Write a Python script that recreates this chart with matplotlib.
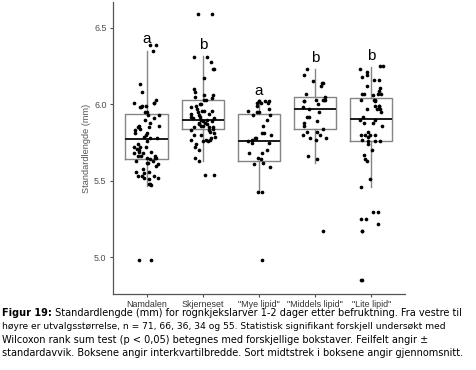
import numpy as np
import matplotlib
matplotlib.use("Agg")
import matplotlib.pyplot as plt
from matplotlib.text import Annotation

# --- DATA ---
groups = ['Namdalen', 'Skjerneset', '"Mye lipid"', '"Middels lipid"', '"Lite lipid"']
letters = ['a', 'b', 'a', 'b', 'b']
letter_y = [6.43, 6.39, 6.09, 6.30, 6.315]

# box statistics (q1, median, q3, lower whisker, upper whisker)
q1 = [5.645, 5.837, 5.633, 5.837, 5.760]
med = [5.774, 5.898, 5.759, 5.967, 5.907]
q3 = [5.935, 6.028, 5.937, 6.046, 6.040]
wlo = [5.469, 5.630, 5.430, 5.620, 5.463]
whi = [6.348, 6.315, 6.024, 6.230, 6.246]

namdalen = [6.39, 6.39, 6.35, 6.13, 6.08, 6.03, 6.01, 6.01, 6.01, 5.99, 5.99,
            5.98, 5.98, 5.95, 5.95, 5.93, 5.93, 5.91, 5.88, 5.86, 5.86, 5.85,
            5.85, 5.83, 5.81, 5.81, 5.80, 5.78, 5.78, 5.76, 5.72, 5.72, 5.72,
            5.70, 5.69, 5.69, 5.68, 5.68, 5.66, 5.66, 5.66, 5.65, 5.65, 5.65,
            5.64, 5.63, 5.63, 5.62, 5.62, 5.60, 5.58, 5.56, 5.56, 5.55, 5.53,
            5.53, 5.53, 5.52, 5.52, 5.51, 5.48, 5.48, 5.47, 5.74, 5.90, 5.84,
            5.79, 5.71, 5.61, 4.98, 4.98]
skjerneset = [6.59, 6.59, 6.31, 6.31, 6.28, 6.23, 6.23, 6.17, 6.10, 6.08,
              6.06, 6.06, 6.05, 6.04, 6.03, 6.03, 6.00, 6.00, 5.99, 5.98, 5.96,
              5.96, 5.96, 5.95, 5.94, 5.94, 5.92, 5.92, 5.91, 5.91, 5.90, 5.90,
              5.89, 5.89, 5.88, 5.88, 5.87, 5.87, 5.86, 5.85, 5.85, 5.85, 5.84,
              5.83, 5.83, 5.82, 5.80, 5.80, 5.78, 5.77, 5.77, 5.77, 5.76, 5.76,
              5.74, 5.72, 5.70, 5.65, 5.63, 5.54, 5.54, 5.93, 5.97, 5.81, 5.86,
              5.79]
mye = [6.02, 6.02, 6.02, 6.02, 6.01, 6.01, 6.01, 5.99, 5.97, 5.96, 5.95,
       5.95, 5.93, 5.93, 5.90, 5.86, 5.81, 5.81, 5.80, 5.78, 5.78, 5.77,
       5.76, 5.75, 5.75, 5.70, 5.68, 5.68, 5.65, 5.64, 5.62, 5.61, 5.59,
       5.43, 5.43, 4.98]
middels = [6.23, 6.19, 6.15, 6.14, 6.14, 6.12, 6.07, 6.05, 6.03, 6.03, 6.03,
           6.03, 6.02, 6.02, 5.98, 5.97, 5.92, 5.92, 5.89, 5.86, 5.82, 5.82,
           5.80, 5.80, 5.78, 5.78, 5.77, 5.84, 5.95, 6.00, 5.66, 5.64, 5.88,
           5.17]
lite = [6.25, 6.25, 6.23, 6.21, 6.19, 6.18, 6.16, 6.16, 6.12, 6.11, 6.09,
        6.07, 6.07, 6.07, 6.07, 6.06, 6.03, 6.03, 6.03, 6.02, 5.99, 5.99,
        5.99, 5.97, 5.97, 5.97, 5.95, 5.92, 5.90, 5.90, 5.88, 5.88, 5.86,
        5.82, 5.80, 5.80, 5.80, 5.80, 5.79, 5.77, 5.76, 5.76, 5.76, 5.74,
        5.70, 5.67, 5.64, 5.63, 5.51, 5.46, 5.30, 5.30, 5.25, 5.25, 5.22,
        5.17, 5.17, 4.85, 4.85]
values = [namdalen, skjerneset, mye, middels, lite]

caption_head = "Figur 19:"
caption_lines = [
    " Standardlengde (mm) for rognkjekslarver 1-2 dager etter befruktning. Fra vestre til",
    "høyre er utvalgsstørrelse, n = 71, 66, 36, 34 og 55. Statistisk signifikant forskjell undersøkt med",
    "Wilcoxon rank sum test (p < 0,05) betegnes med forskjellige bokstaver. Feilfelt angir ±",
    "standardavvik. Boksene angir interkvartilbredde. Sort midtstrek i boksene angir gjennomsnitt.",
]

# --- PLOTTING ---
fig = plt.figure(figsize=(4.76, 3.70), dpi=100)
ax = fig.add_axes([0.237, 0.205, 0.614, 0.79])
axfont = 'Liberation Sans'

stats = []
for i in range(len(groups)):
    stats.append(dict(q1=q1[i], med=med[i], q3=q3[i], whislo=wlo[i], whishi=whi[i], fliers=[]))
pos = np.arange(1, len(groups) + 1)
ax.bxp(stats, positions=pos, widths=0.75, showfliers=False, showcaps=False,
       boxprops=dict(color='#858585', linewidth=1.0),
       whiskerprops=dict(color='#858585', linewidth=1.0),
       medianprops=dict(color='#1a1a1a', linewidth=1.4))

rng = np.random.default_rng(7)  # horizontal jitter only
for p, vals in zip(pos, values):
    xj = p + rng.uniform(-0.22, 0.22, len(vals))
    ax.scatter(xj, vals, s=7, color='black', zorder=3, linewidths=0)

for p, lt, ly in zip(pos, letters, letter_y):
    ax.text(p, ly, lt, ha='center', va='center', fontsize=11, color='black', family=axfont)

ax.set_xlim(0.4, 5.6)
ax.set_ylim(4.76, 6.67)
ax.set_yticks([5.0, 5.5, 6.0, 6.5])
ax.set_yticklabels(['5.0', '5.5', '6.0', '6.5'], family=axfont)
ax.set_xticks(pos)
ax.set_xticklabels(groups, family=axfont)
ax.tick_params(colors='#4d4d4d', labelsize=6.4, length=2.5, width=0.8, pad=2)
ax.tick_params(axis='x', labelcolor='#333333')
ax.set_ylabel("Standardlengde (mm)", fontsize=6.6, color='#555555', labelpad=2, family=axfont)
for s in ['top', 'right']:
    ax.spines[s].set_visible(False)
for s in ['left', 'bottom']:
    ax.spines[s].set_color('#555555')
    ax.spines[s].set_linewidth(0.9)

# caption
y0 = 313
sizes = [7.0, 6.55, 7.0, 7.0]
head = fig.text(2 / 476, 1 - y0 / 370, caption_head, fontsize=sizes[0], fontweight='bold',
                va='center', ha='left', color='black')
rest = Annotation(caption_lines[0], xy=(1, 0.5), xycoords=head, va='center', ha='left',
                  fontsize=sizes[0], color='black')
fig.add_artist(rest)
for k, line in enumerate(caption_lines[1:], start=1):
    fig.text(2 / 476, 1 - (y0 + 13.3 * k) / 370, line, fontsize=sizes[k], va='center',
             ha='left', color='black')

fig.savefig("out.png", dpi=100)
